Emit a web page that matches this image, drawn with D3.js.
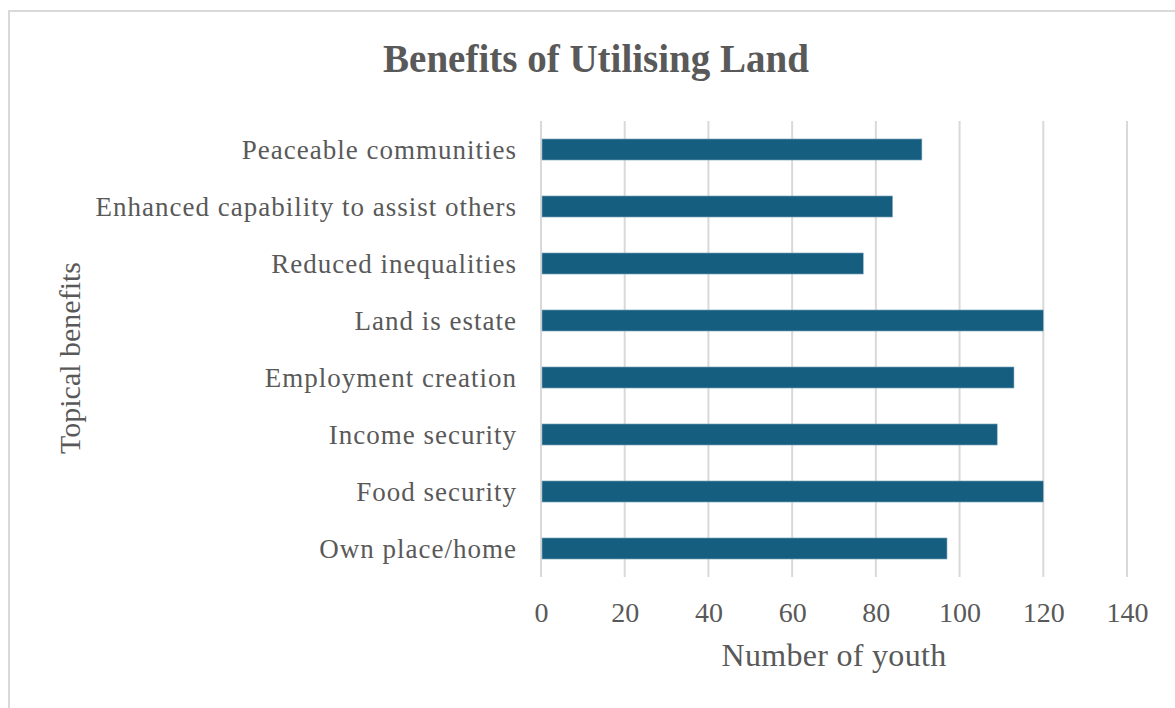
<!DOCTYPE html>
<html>
<head>
<meta charset="utf-8">
<script src="https://cdn.jsdelivr.net/npm/d3@7"></script>
<style>
  body { margin: 0; background: #fff; }
  text { font-family: "Liberation Serif", "Times New Roman", serif; fill: #595959; }
</style>
</head>
<body>
<svg width="1175" height="708"></svg>
<script>
const categories = ["Peaceable communities", "Enhanced capability to assist others", "Reduced inequalities",
  "Land is estate", "Employment creation", "Income security", "Food security", "Own place/home"];
const values = [91, 84, 77, 120, 113, 109, 120, 97];
const ticks = [0, 20, 40, 60, 80, 100, 120, 140];

const svg = d3.select("svg");

// chart area border
svg.append("rect")
  .attr("x", 9).attr("y", 11)
  .attr("width", 1175).attr("height", 720)
  .attr("fill", "none").attr("stroke", "#d9d9d9").attr("stroke-width", 2);

const plotLeft = 541, plotRight = 1127, plotTop = 121, plotBottom = 577;

const x = d3.scaleLinear().domain([0, 140]).range([plotLeft, plotRight]);
const y = d3.scaleBand().domain(categories).range([plotTop, plotBottom]).paddingInner(0.63).paddingOuter(0.315);

// gridlines
svg.append("g").selectAll("line")
  .data(ticks).enter().append("line")
  .attr("x1", d => x(d)).attr("x2", d => x(d))
  .attr("y1", plotTop).attr("y2", plotBottom)
  .attr("stroke", "#d9d9d9").attr("stroke-width", 2);

// bars
svg.append("g").selectAll("rect")
  .data(values).enter().append("rect")
  .attr("x", x(0) + 1)
  .attr("y", (d, i) => y(categories[i]))
  .attr("width", d => x(d) - x(0) - 1)
  .attr("height", y.bandwidth())
  .attr("fill", "#165e80")
  .attr("stroke", "#8fb2c6").attr("stroke-width", 0.6);

// x axis
const xAxis = d3.axisBottom(x).tickValues(ticks).tickSize(0).tickPadding(0);
const gx = svg.append("g").attr("transform", "translate(0,622)").call(xAxis);
gx.select(".domain").remove();
gx.selectAll("text").attr("font-size", 28).attr("fill", "#595959")
  .style("font-family", "Liberation Serif").attr("dy", 0);

// y axis
const yAxis = d3.axisLeft(y).tickSize(0).tickPadding(24);
const gy = svg.append("g").attr("transform", "translate(" + plotLeft + ",0)").call(yAxis);
gy.select(".domain").remove();
gy.selectAll("text").attr("font-size", 27).attr("fill", "#595959")
  .attr("letter-spacing", 1).attr("dy", "0.36em")
  .style("font-family", "Liberation Serif");

// title
svg.append("text")
  .attr("x", 596).attr("y", 72)
  .attr("text-anchor", "middle")
  .attr("font-size", 39).attr("font-weight", "bold")
  .text("Benefits of Utilising Land");

// axis titles
svg.append("text")
  .attr("x", 834).attr("y", 666)
  .attr("text-anchor", "middle")
  .attr("font-size", 32).attr("letter-spacing", 0.3)
  .text("Number of youth");

svg.append("text")
  .attr("transform", "translate(80,358) rotate(-90)")
  .attr("text-anchor", "middle")
  .attr("font-size", 30)
  .text("Topical benefits");
</script>
</body>
</html>
